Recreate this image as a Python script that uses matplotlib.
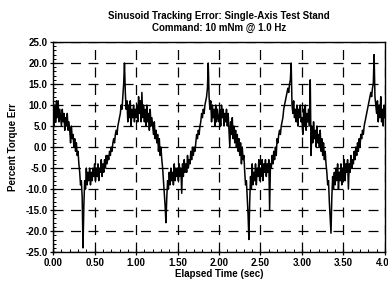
#!/usr/bin/env python3
import numpy as np
import matplotlib
matplotlib.use("Agg")
import matplotlib.pyplot as plt
from matplotlib.ticker import MultipleLocator, FormatStrFormatter

plt.rcParams['font.family'] = ['Liberation Sans', 'DejaVu Sans']

# Percent torque error, every 0.01 s, one list per 1 Hz cycle
cycle1 = [8, 5, 10, 6, 11, 7, 11, 6, 9, 7,
          5, 9, 6, 8, 4, 7, 5, 8, 4, 6,
          4, 1, 5, 2, 3, 0, 2, -1, 1, -2,
          -1, -4, -6, -9, -8, -12, -24, -14, -8, -10,
          -5, -9, -6, -8, -5, -9, -6, -8, -5, -7,
          -4, -8, -5, -7, -4, -8, -5, -6, -3, -7,
          -4, -6, -3, -5, -2, -4, -2, -3, -1, -2,
          0, -1, 1, 2, 1, 3, 4, 3, 5, 6,
          7, 8, 10, 9, 12, 15, 20, 13, 9, 11,
          6, 10, 7, 11, 5, 9, 7, 10, 6, 9]
cycle2 = [7, 10, 6, 12, 8, 11, 6, 13, 7, 10,
          6, 9, 5, 10, 6, 8, 4, 9, 5, 7,
          5, 3, 6, 2, 4, 1, 3, -1, 2, -2,
          0, -3, -5, -8, -11, -14, -18, -12, -8, -10,
          -6, -9, -5, -8, -6, -9, -4, -8, -5, -7,
          -5, -8, -4, -7, -5, -11, -4, -7, -3, -6,
          -4, -6, -2, -5, -3, -4, -1, -3, 0, -2,
          0, -1, 1, 3, 2, 4, 3, 5, 6, 8,
          7, 9, 8, 10, 11, 12, 14, 20, 12, 9,
          11, 6, 10, 7, 9, 5, 10, 6, 9, 7]
cycle3 = [6, 9, 5, 10, 7, 9, 5, 8, 6, 9,
          5, 8, 4, 0, 6, 3, 7, 2, 5, 1,
          4, 0, 3, -1, 2, -2, 1, -4, 0, -3,
          -2, -6, -9, -8, -12, -16, -22, -13, -7, -10,
          -4, -9, -6, -8, -4, -9, -5, -7, -3, -8,
          -5, -7, -3, -8, -4, -6, -3, -7, -4, -6,
          -3, -15, -4, -5, -2, -4, -1, -3, 0, -2,
          2, 1, 3, 4, 3, 5, 6, 7, 9, 10,
          11, 12, 13, 14, 13, 15, 16, 20, 10, 8,
          11, 7, 9, 6, 10, 5, 9, 7, 10, 6]
cycle4 = [7, 3, 9, 5, 10, 4, 8, 6, 9, 5,
          16, -2, 5, 1, 6, 2, 4, 0, 5, 1,
          3, 0, 4, -1, 2, -2, 1, -3, -1, -4,
          -6, -9, -8, -13, -17, -20.5, -12, -7, -10, -6,
          -9, -5, -8, -4, -10, -6, -8, -4, -9, -5,
          -7, -3, -8, -4, -6, -3, -10, -4, -6, -2,
          -5, -3, -4, -1, -3, 0, -2, 1, -1, 2,
          0, 3, 2, 4, 3, 5, 6, 7, 8, 9,
          10, 11, 12, 13, 12, 14, 15, 22, 12, 10,
          8, 11, 6, 10, 7, 12, 6, 9, 5, 10,
          7]

err = np.array(cycle1 + cycle2 + cycle3 + cycle4, dtype=float)
t = np.arange(len(err)) * 0.01

fig = plt.figure(figsize=(3.88, 2.82), dpi=100)
ax = fig.add_axes([0.137, 0.106, 0.855, 0.745])

ax.plot(t, err, color='black', linewidth=1.1)

ax.set_xlim(0, 4.0)
ax.set_ylim(-25, 25)
ax.xaxis.set_major_locator(MultipleLocator(0.5))
ax.xaxis.set_minor_locator(MultipleLocator(0.1))
ax.yaxis.set_major_locator(MultipleLocator(5))
ax.yaxis.set_minor_locator(MultipleLocator(1))
ax.xaxis.set_major_formatter(FormatStrFormatter('%.2f'))
ax.yaxis.set_major_formatter(FormatStrFormatter('%.1f'))
ax.tick_params(which='major', direction='inout', length=4, width=0.9,
               labelsize=7, pad=2)
ax.tick_params(which='minor', direction='in', length=2, width=0.7)
for lab in ax.get_xticklabels() + ax.get_yticklabels():
    lab.set_fontweight('bold')
for s in ax.spines.values():
    s.set_linewidth(1.0)

ax.grid(True, which='major', color='black', linewidth=0.9,
        linestyle=(0, (8, 6)))

ax.set_xlabel('Elapsed Time (sec)', fontsize=7, fontweight='bold', labelpad=1)
ax.set_ylabel('Percent Torque Err', fontsize=7, fontweight='bold', labelpad=5)
ax.set_title('Sinusoid Tracking Error: Single-Axis Test Stand\n'
             'Command: 10 mNm @ 1.0 Hz', fontsize=7, fontweight='bold',
             pad=8, linespacing=1.3)

fig.savefig('out.png', dpi=100)
